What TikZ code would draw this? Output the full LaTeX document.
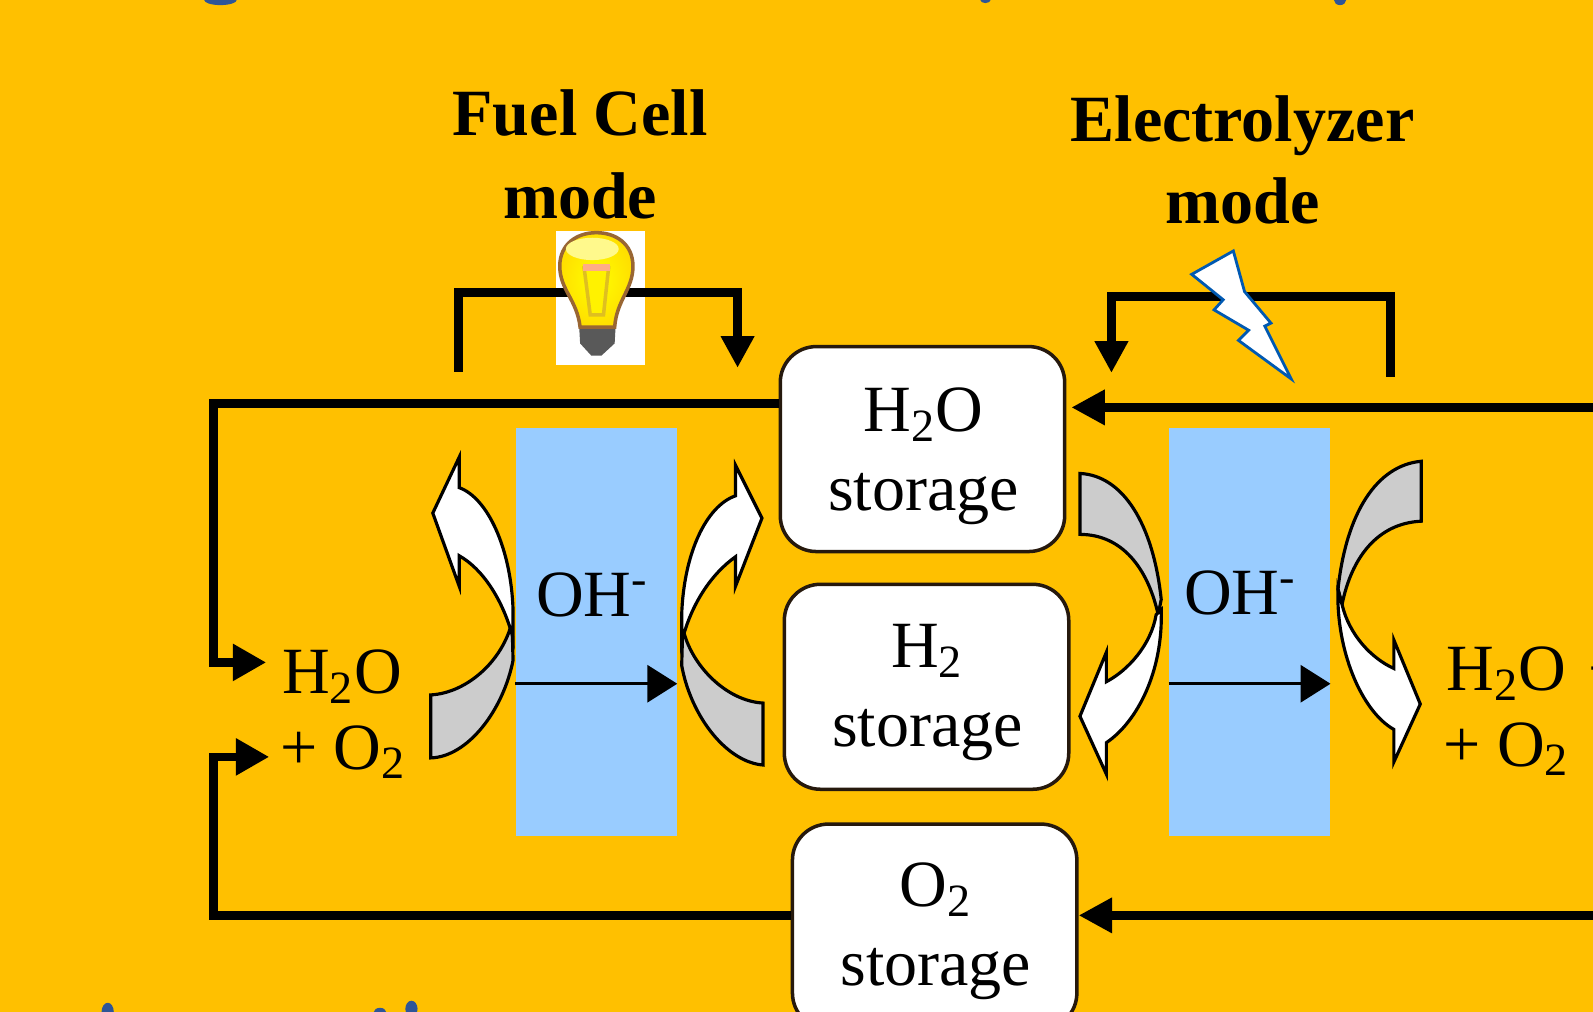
\documentclass[tikz,border=0pt]{standalone}
\usepackage{fontspec}
\usetikzlibrary{arrows.meta}
\setmainfont{Liberation Serif}
\definecolor{slidebg}{HTML}{FFC000}
\definecolor{membraneblue}{HTML}{99CCFF}
\definecolor{titleblue}{HTML}{2F5597}
\definecolor{flowgray}{HTML}{CCCCCC}
\tikzset{
	labeltext/.style={font=\fontsize{18.8}{22.5}\selectfont, inner sep=0pt, align=center},
	modetext/.style={labeltext, font=\bfseries\fontsize{18.8}{23.4}\selectfont},
	storagebox/.style={draw=black!80!brown, line width=1pt, fill=white, rounded corners=0.36cm,
		minimum width=2.845cm, minimum height=2.05cm},
	membrane/.style={fill=membraneblue, minimum width=1.605cm, minimum height=4.084cm, inner sep=0pt},
	flowline/.style={line width=2.5pt, -{Triangle[length=9.5pt,width=9.5pt]}},
	sideline/.style={line width=2.5pt, -{Triangle[length=9.5pt,width=10pt]}},
	loadline/.style={line width=2.5pt, -{Triangle[length=9pt,width=9pt]}},
	ionline/.style={line width=0.9pt, -{Triangle[length=8.5pt,width=10.5pt]}},
	backflow/.style={draw=black, line width=0.9pt, fill=flowgray},
	frontflow/.style={draw=black, line width=0.9pt, fill=white},
}
\begin{document}
\begin{tikzpicture}[x=0.01016cm, y=-0.01016cm]
		\path[use as bounding box, clip] (0,0) rectangle (1568,996);
		\fill[slidebg] (0,0) rectangle (1568,996);
		% Cut-off slide text at the edges
		\fill[titleblue] (217,0) ellipse (16 and 5);
		\fill[titleblue] (970,0) ellipse (5 and 3);
		\fill[titleblue] (1319,0) ellipse (6 and 5);
		\fill[titleblue] (106,996) ellipse (6 and 9);
		\fill[titleblue] (374,996) ellipse (6 and 4);
		\fill[titleblue] (405,993) ellipse (6 and 8);
		% Membranes
		\node[membrane] (fcmembrane) at (587,622) {};
		\node[membrane] (elmembrane) at (1230,622) {};
		\node[labeltext, anchor=base] (fcion) at (583,607) {OH\textsuperscript{-}};
		\node[labeltext, anchor=base] (elion) at (1221,605) {OH\textsuperscript{-}};
		% Storage boxes
		\node[storagebox] (waterstore) at (908,442) {};
		\node[storagebox] (hydrogenstore) at (912,676) {};
		\node[storagebox] (oxygenstore) at (920,912) {};
		\node[labeltext] (waterlabel) at (909,449) {H\textsubscript{2}O\\storage};
		\node[labeltext] (hydrogenlabel) at (913,682) {H\textsubscript{2}\\storage};
		\node[labeltext] (oxygenlabel) at (921,917) {O\textsubscript{2}\\storage};
		% Mode titles
		\node[modetext] (fctitle) at (571,152) {Fuel Cell\\mode};
		\node[modetext] (eltitle) at (1223,157) {Electrolyzer\\mode};
		% Side labels
		\node[labeltext, anchor=base west] (fcwater) at (277,683) {H\textsubscript{2}O};
		\node[labeltext, anchor=base west] (fcoxygen) at (275,757) {+ O\textsubscript{2}};
		\node[labeltext, anchor=base west] (elwater) at (1423,680) {H\textsubscript{2}O \kern1.5pt+};
		\node[labeltext, anchor=base west] (eloxygen) at (1420,754) {+ O\textsubscript{2}};
		% Free ends
		\coordinate (fcwaterin) at (262,652);
		\coordinate (fcoxygenin) at (265,745);
		\coordinate (fcloadleft) at (451,366);
		\coordinate (fcloadright) at (726,362);
		\coordinate (elloadleft) at (1094,367);
		\coordinate (elloadright) at (1369,371);
		\coordinate (elwaterout) at (1568,401);
		\coordinate (eloxygenout) at (1568,901);
		% White square of the bulb
		\fill[white] (547,227) rectangle (635,359);
		% Connectors
		\draw[sideline] (waterstore.west |- 0,397) -| (210,652) -- (fcwaterin);
		\draw[sideline] (oxygenstore.west |- 0,901) -| (210,745) -- (fcoxygenin);
		\draw[flowline, shorten >=1.4pt] (elwaterout) -- (waterstore.east |- elwaterout);
		\draw[flowline] (eloxygenout) -- (oxygenstore.east |- eloxygenout);
		\draw[loadline] (fcloadleft) -- (451,288) -| (fcloadright);
		\draw[loadline] (elloadright) -- (1369,292) -| (elloadleft);
		\draw[ionline] (fcmembrane.west |- 0,673) -- (fcmembrane.east |- 0,673);
		\draw[ionline] (elmembrane.west |- 0,673) -- (elmembrane.east |- 0,673);
		% Bulb
		\fill[black!65] (570,320) -- (606,320) -- (605,338) -- (592,350) -- (582,350) -- (571,338) -- cycle;
		\shade[inner color=yellow, outer color=yellow!75!orange, draw=brown!80!black, line width=1pt]
			(571,322) .. controls (568,295) and (551,285) .. (551,262)
			.. controls (551,240) and (568,229) .. (587,229)
			.. controls (606,229) and (623,240) .. (623,262)
			.. controls (623,285) and (607,295) .. (605,322) -- cycle;
		\fill[yellow!45!white] (583,245) ellipse (26 and 11);
		\draw[draw=brown!50!yellow, fill=yellow, line width=1pt] (575,264) -- (599,264) -- (594,310) -- (581,310) -- cycle;
		\fill[orange!30!pink] (574,260) rectangle (600,267);
		% Lightning
		\draw[draw=blue!50!cyan!70!black, fill=white, line width=0.8pt]
			(1214,247) -- (1173,270) -- (1204,295) -- (1195,305) -- (1229,325) -- (1219,335)
			-- (1271,373) -- (1245,321) -- (1251,318) -- (1225,287) -- cycle;
		% Fuel cell flows
		\draw[backflow] (424,684) .. controls (460,682) and (495,650) .. (504,612) -- (505,650) .. controls (495,700) and (460,745) .. (424,746) -- cycle;
		\draw[frontflow] (452,480) .. controls (480,490) and (503,540) .. (505,600) -- (505,628) .. controls (495,590) and (475,560) .. (452,547) -- (452,577) -- (426,505) -- (452,450) -- cycle;
		\draw[backflow] (751,692) .. controls (715,690) and (680,655) .. (672,618) -- (671,655) .. controls (680,705) and (715,750) .. (751,753) -- cycle;
		\draw[frontflow] (724,488) .. controls (695,498) and (673,545) .. (671,605) -- (671,632) .. controls (680,595) and (700,565) .. (724,548) -- (724,577) -- (750,510) -- (724,458) -- cycle;
		% Electrolyzer flows
		\draw[backflow] (1063,466) .. controls (1105,468) and (1135,515) .. (1143,590) -- (1140,605) .. controls (1130,560) and (1105,526) .. (1063,526) -- cycle;
		\draw[frontflow] (1089,671) .. controls (1110,660) and (1133,635) .. (1138,605) -- (1143,600) .. controls (1145,660) and (1120,710) .. (1089,731) -- (1089,762) -- (1063,705) -- (1089,642) -- cycle;
		\draw[backflow] (1399,454) .. controls (1355,458) and (1325,505) .. (1317,580) -- (1321,595) .. controls (1330,550) and (1355,515) .. (1399,513) -- cycle;
		\draw[frontflow] (1372,658) .. controls (1350,648) and (1328,625) .. (1321,595) -- (1317,580) .. controls (1315,640) and (1340,700) .. (1372,718) -- (1372,750) -- (1398,693) -- (1372,630) -- cycle;
	\end{tikzpicture}
\end{document}
